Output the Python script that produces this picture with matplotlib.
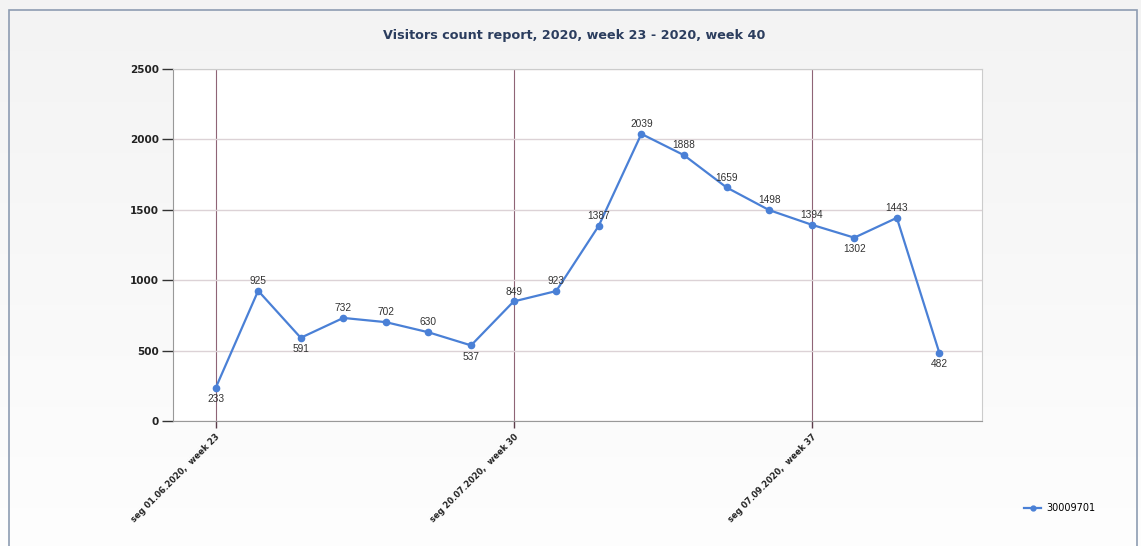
import numpy as np
import matplotlib
matplotlib.use("Agg")
import matplotlib.pyplot as plt
from matplotlib.patches import Rectangle
from matplotlib.lines import Line2D


TITLE = "Visitors count report, 2020, week 23 - 2020, week 40"
WEEKS = list(range(23, 41))
VISITORS = [233, 925, 591, 732, 702, 630, 537, 849, 923, 1387,
            2039, 1888, 1659, 1498, 1394, 1302, 1443, 482]
TICK_WEEKS = [23, 30, 37]
TICK_LABELS = ["seg 01.06.2020,  week 23",
               "seg 20.07.2020,  week 30",
               "seg 07.09.2020,  week 37"]
SERIES_NAME = "30009701"

LINE_COLOR = "#4a80d6"
W, H = 1141, 546


def main():
    fig = plt.figure(figsize=(W / 100, H / 100), dpi=100)

    # grey-to-white background
    bg = fig.add_axes([0, 0, 1, 1], zorder=-10)
    grad = np.linspace(0.953, 0.995, 256).reshape(-1, 1)
    bg.imshow(np.dstack([grad, grad, grad]), aspect="auto", extent=[0, 1, 0, 1])
    bg.set_axis_off()
    fig.patches.append(Rectangle((9 / W, -0.05), (1137 - 9) / W, 1.05 - 10 / H,
                                 transform=fig.transFigure, fill=False,
                                 edgecolor="#8d9cb2", linewidth=1.2))

    ax = fig.add_axes([173 / W, 1 - 421 / H, (982 - 173) / W, (421 - 69) / H])
    ax.set_facecolor("white")

    x = np.arange(len(WEEKS))
    ax.plot(x, VISITORS, "o-", color=LINE_COLOR, linewidth=1.6, markersize=4.5, zorder=3)

    # value labels: below for local minima, above otherwise
    for i, v in enumerate(VISITORS):
        prev_v = VISITORS[i - 1] if i > 0 else np.inf
        next_v = VISITORS[i + 1] if i < len(VISITORS) - 1 else np.inf
        below = v < prev_v and v < next_v
        ax.annotate(str(v), (x[i], v), xytext=(0, -4.5 if below else 3.5),
                    textcoords="offset points", ha="center",
                    va="top" if below else "bottom",
                    fontsize=7.3, family="Liberation Sans", color="#333333", zorder=4)

    ax.set_xlim(-1, len(WEEKS))
    ax.set_ylim(0, 2500)
    ax.set_yticks(range(0, 2501, 500))
    ax.set_yticklabels([str(t) for t in range(0, 2501, 500)],
                       fontsize=7.5, fontweight="bold", color="#222222")
    ax.set_xticks([WEEKS.index(w) for w in TICK_WEEKS])
    ax.set_xticklabels(TICK_LABELS, rotation=45, ha="right", rotation_mode="anchor",
                       fontsize=6, fontweight="bold", color="#222222")

    ax.tick_params(axis="y", length=8, width=1, color="#333333", pad=2)
    ax.tick_params(axis="x", length=5, width=1, color="#5a3a48", pad=3)

    ax.grid(axis="y", color="#dcd2d6", linewidth=1)
    ax.grid(axis="x", color="#8f6476", linewidth=0.8)
    ax.set_axisbelow(True)

    for side in ["top", "right"]:
        ax.spines[side].set_color("#cccccc")
    ax.spines["left"].set_color("#999999")
    ax.spines["bottom"].set_color("#999999")

    fig.text(574 / W, 1 - 35 / H, TITLE, ha="center", va="center",
             fontsize=9.2, fontweight="bold", color="#2b3d5e")

    handle = Line2D([], [], color=LINE_COLOR, marker="o", linewidth=1.6, markersize=3.5)
    fig.legend([handle], [SERIES_NAME], loc="center left",
               bbox_to_anchor=(1015 / W, 1 - 508 / H), frameon=False,
               fontsize=7, handlelength=1.8, handletextpad=0.5)

    fig.savefig("out.png", dpi=100)


if __name__ == "__main__":
    main()
